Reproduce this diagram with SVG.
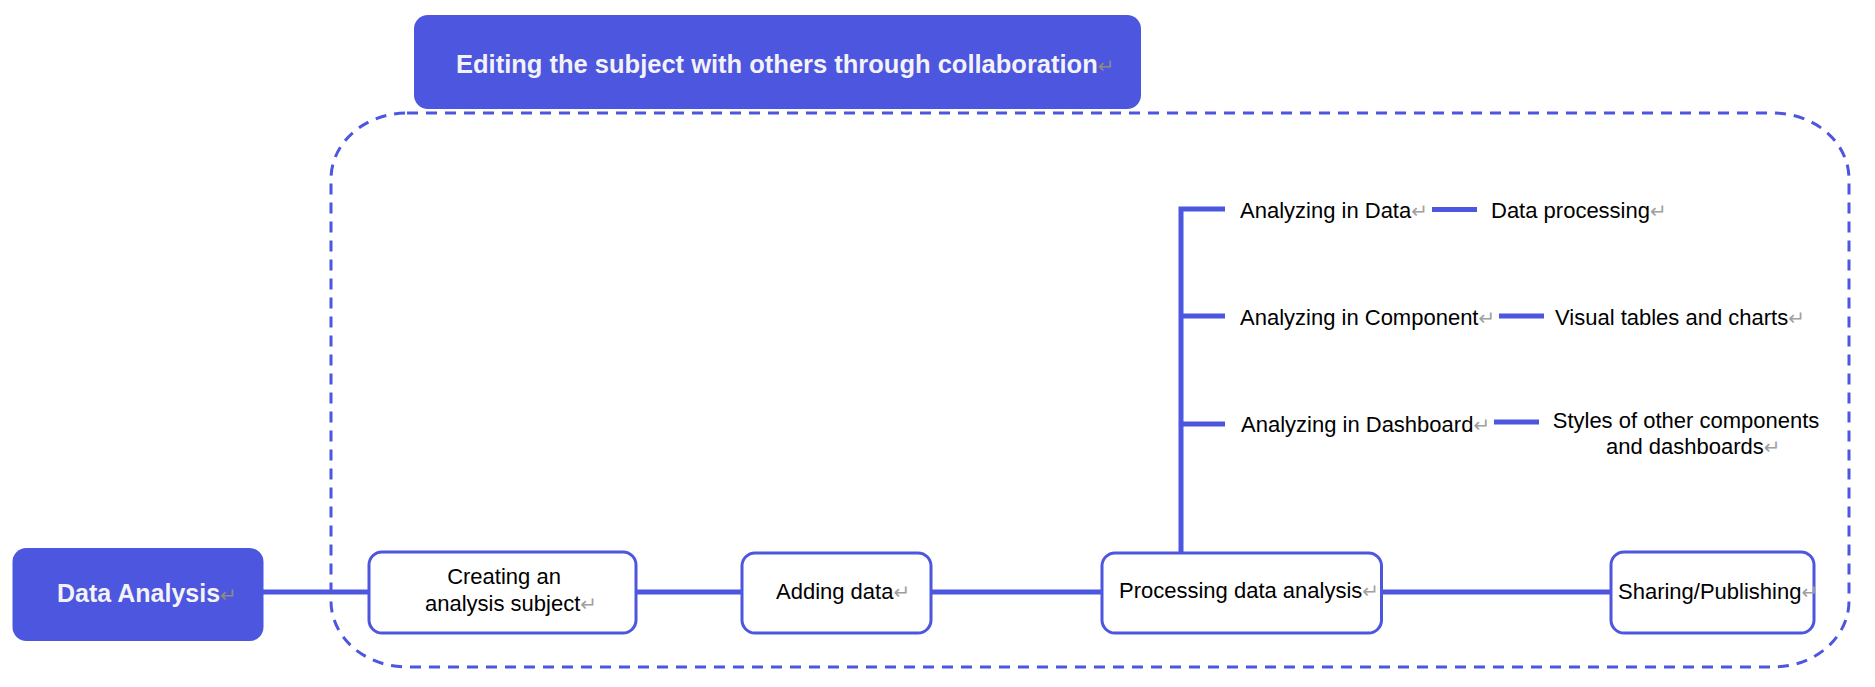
<svg xmlns="http://www.w3.org/2000/svg" width="1875" height="687" viewBox="0 0 1875 687">
<style>
.fill{fill:#4c56de;}
.box{fill:#ffffff;stroke:#4c56de;stroke-width:3;}
.ln{stroke:#4c56de;stroke-width:5;fill:none;}
.t{font-family:"Liberation Sans",Arial,sans-serif;font-size:22px;fill:#000;}
.tb{font-family:"Liberation Sans",Arial,sans-serif;font-weight:bold;fill:#f2f2f7;}
.rm{font-family:"DejaVu Sans","Noto Sans CJK SC",sans-serif;font-size:20px;fill:#a0a0a0;font-weight:normal;}
.rmb{font-family:"DejaVu Sans","Noto Sans CJK SC",sans-serif;font-size:20px;fill:#8c8c80;font-weight:normal;}
</style>
<rect width="1875" height="687" fill="#ffffff"/>
<g id="collab-frame">
<rect x="331" y="113" width="1518" height="554" rx="76" ry="66" fill="none" stroke="#4c56de" stroke-width="3" stroke-dasharray="11 8"/>
</g>
<g id="banner">
<rect class="fill" x="414" y="15" width="727" height="94" rx="14"/>
<text class="tb" x="456" y="73" font-size="25.5">Editing the subject with others through collaboration<tspan class="rmb">↵</tspan></text>
</g>
<g id="connectors">
<line class="ln" x1="263" y1="592" x2="369" y2="592"/>
<line class="ln" x1="636" y1="592" x2="742" y2="592"/>
<line class="ln" x1="931" y1="592" x2="1102" y2="592"/>
<line class="ln" x1="1381" y1="592" x2="1611" y2="592" stroke-width="5.5"/>
<polyline class="ln" points="1181,552 1181,209 1225,209"/>
<line class="ln" x1="1181" y1="316" x2="1225" y2="316"/>
<line class="ln" x1="1181" y1="424" x2="1225" y2="424"/>
<line class="ln" x1="1432" y1="209.5" x2="1477" y2="209.5"/>
<line class="ln" x1="1499" y1="316" x2="1544" y2="316"/>
<line class="ln" x1="1494" y1="422" x2="1539" y2="422"/>
</g>
<g id="data-analysis">
<rect class="fill" x="12.5" y="548" width="251" height="93" rx="14"/>
<text class="tb" x="57" y="602" font-size="25">Data Analysis<tspan class="rmb">↵</tspan></text>
</g>
<g id="creating">
<rect class="box" x="369" y="552" width="267" height="81" rx="13"/>
<text class="t" x="504" y="584" text-anchor="middle">Creating an</text>
<text class="t" x="425" y="611">analysis subject<tspan class="rm">↵</tspan></text>
</g>
<g id="adding">
<rect class="box" x="742" y="553" width="189" height="80" rx="13"/>
<text class="t" x="776" y="599">Adding data<tspan class="rm">↵</tspan></text>
</g>
<g id="processing">
<rect class="box" x="1102" y="553" width="279.5" height="80" rx="13"/>
<text class="t" x="1119" y="598">Processing data analysis<tspan class="rm">↵</tspan></text>
</g>
<g id="sharing">
<rect class="box" x="1611" y="552" width="203" height="81" rx="13"/>
<text class="t" x="1618" y="599">Sharing/Publishing<tspan class="rm">↵</tspan></text>
</g>
<g id="analyzing-data">
<text class="t" x="1240" y="218">Analyzing in Data<tspan class="rm">↵</tspan></text>
</g>
<g id="data-processing">
<text class="t" x="1491" y="218">Data processing<tspan class="rm">↵</tspan></text>
</g>
<g id="analyzing-component">
<text class="t" x="1240" y="325">Analyzing in Component<tspan class="rm">↵</tspan></text>
</g>
<g id="visual-tables">
<text class="t" x="1555" y="325">Visual tables and charts<tspan class="rm">↵</tspan></text>
</g>
<g id="analyzing-dashboard">
<text class="t" x="1241" y="432">Analyzing in Dashboard<tspan class="rm">↵</tspan></text>
</g>
<g id="styles">
<text class="t" x="1686" y="428" text-anchor="middle">Styles of other components</text>
<text class="t" x="1606" y="454">and dashboards<tspan class="rm">↵</tspan></text>
</g>
</svg>
